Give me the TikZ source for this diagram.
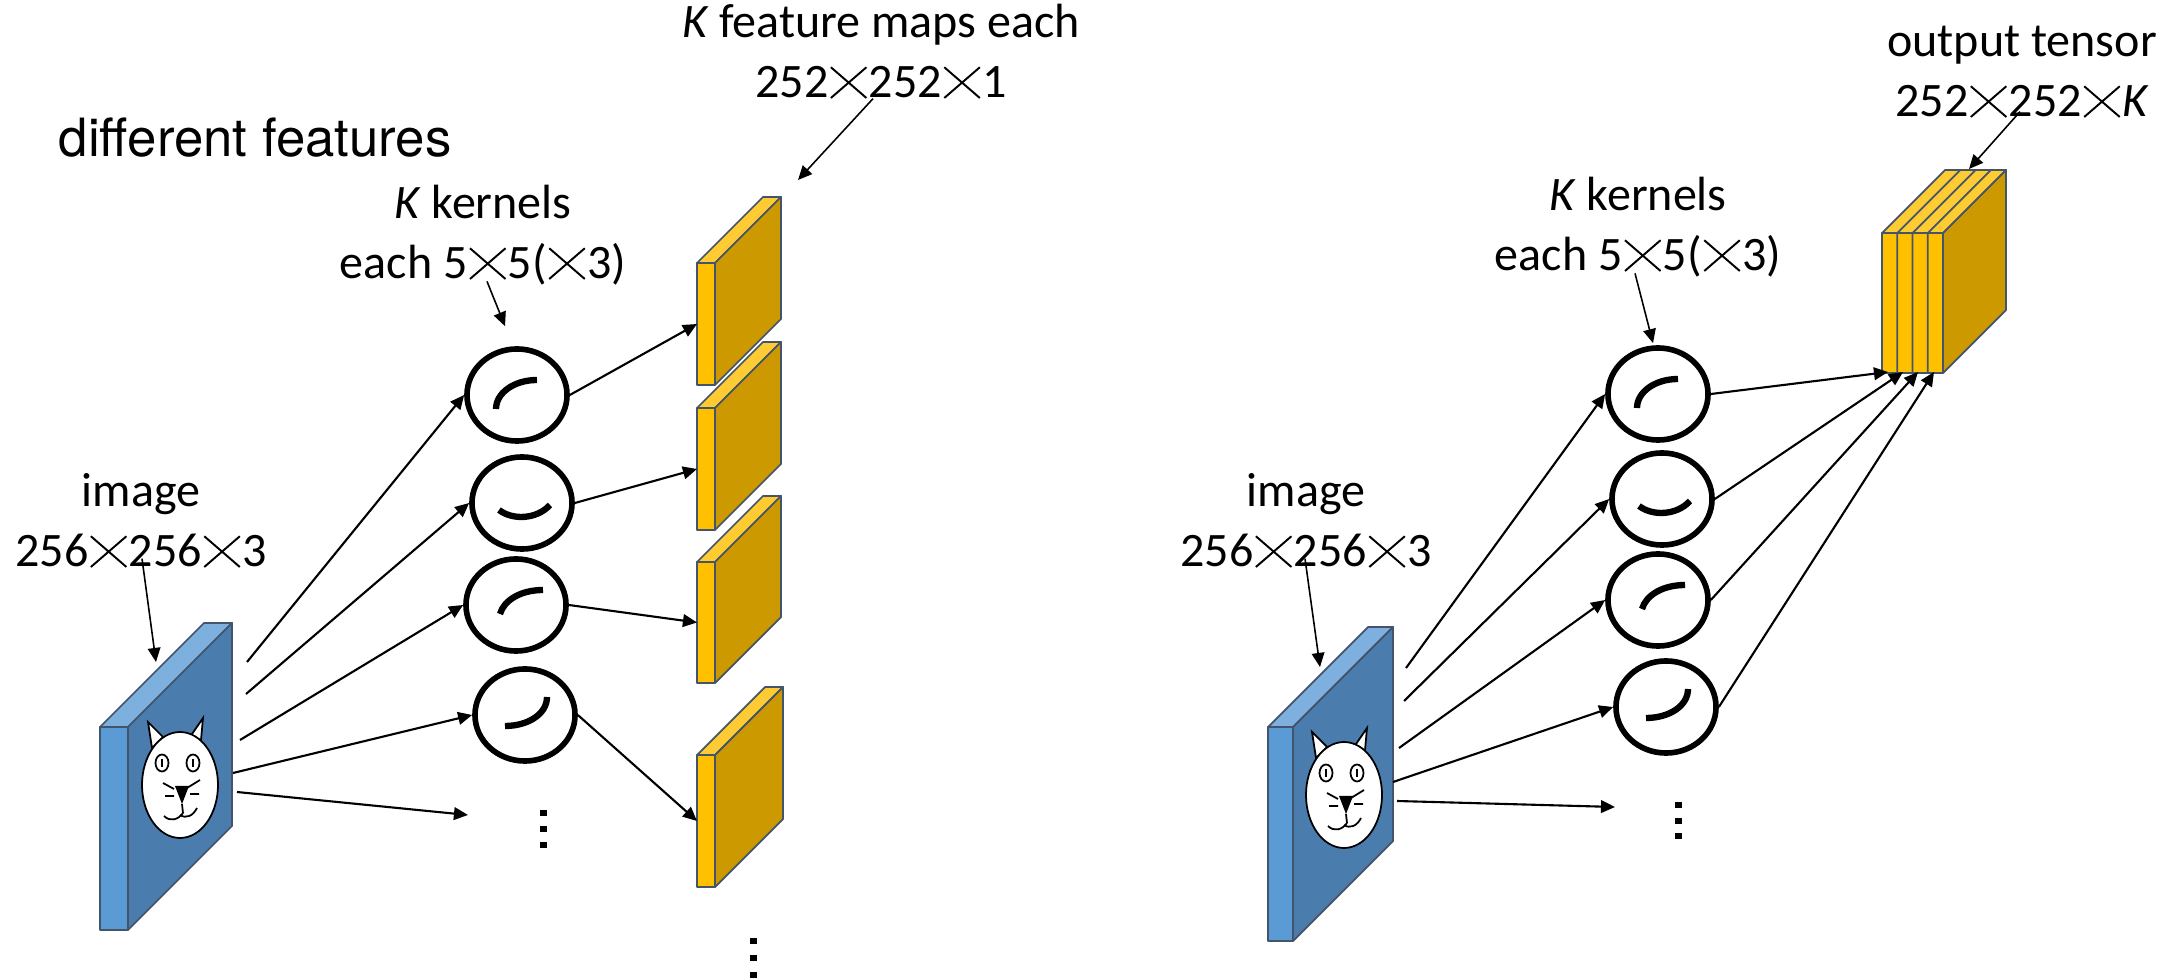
\documentclass[tikz,border=0pt]{standalone}
\usepackage{fontspec}
\setmainfont{Carlito}
\newfontfamily\heros{TeX Gyre Heros}
\usetikzlibrary{arrows.meta, calc, positioning, shapes.geometric}

\definecolor{imgfront}{HTML}{5B9BD5}
\definecolor{imgtop}{HTML}{7DAFDF}
\definecolor{imgside}{HTML}{4A7DAD}
\definecolor{mapfront}{HTML}{FFC000}
\definecolor{maptop}{HTML}{FFCB33}
\definecolor{mapside}{HTML}{CC9A00}
\definecolor{edge}{HTML}{44546A}

\tikzstyle{kernel} = [draw, ellipse, line width=1.6pt, minimum width=1.0cm, minimum height=0.92cm, inner sep=0pt]
\tikzstyle{glyph} = [line width=1.8pt]
\tikzstyle{arrow} = [draw, -{Triangle[length=4pt, width=3.6pt]}, line width=0.6pt]
\tikzstyle{pointer} = [draw, -{Triangle[length=4pt, width=3.6pt]}, line width=0.45pt]
\tikzstyle{note} = [align=center, inner sep=0pt, anchor=base, font=\fontsize{13.66}{17.07}\selectfont]
\tikzstyle{face} = [draw=edge, line width=0.5pt, line join=round]

% the large cross in the sizes
\newcommand{\dimx}{\tikz[baseline=0pt]{\path (0,0) rectangle (0.84em,0.64em);
  \draw[line width=0.55pt] (0.05em,0) -- (0.79em,0.64em) (0.05em,0.64em) -- (0.79em,0);}}

% thin box: name, x, y, width, height, depth, front, top, side
\newcommand{\slab}[9]{%
  \filldraw[face, fill=#8] (#2,#3) -- ++(#6,-#6) -- ++(#4,0) -- ++(-#6,#6) -- cycle;
  \filldraw[face, fill=#9] (#2+#4,#3) -- ++(#6,-#6) -- ++(0,#5) -- ++(-#6,#6) -- cycle;
  \filldraw[face, fill=#7] (#2,#3) rectangle ++(#4,#5);
  \coordinate (#1) at (#2,#3+#5/2);
}

% cat face around a centre
\newcommand{\catface}[2]{%
  \begin{scope}[shift={(#1,#2)}, line width=0.5pt]
    \filldraw[fill=white] (-28,-37) -- (-32,-63) -- (-17,-48) -- cycle;
    \filldraw[fill=white] (10,-48) -- (23,-67) -- (21,-45) -- cycle;
    \filldraw[fill=white] (0,0) ellipse [x radius=38, y radius=53];
    \draw (-18,-22) ellipse [x radius=6.5, y radius=8.5] (13,-22) ellipse [x radius=6.5, y radius=8.5];
    \draw (-18,-26) -- (-18,-18) (13,-26) -- (13,-18);
    \fill (-5,1) -- (9,1) -- (2,19) -- cycle;
    \draw (-17,-2) -- (-6,4) (-15,11) -- (-6,11) (7,3) -- (20,-5) (10,9) -- (19,9);
    \draw (2,19) -- (3,28);
    \draw (-16,31) .. controls (-10,37) and (-2,35) .. (3,28);
    \draw (0,30) .. controls (6,34) and (13,31) .. (17,23);
  \end{scope}}

% strokes inside the kernels
\newcommand{\glyphA}[1]{\draw[glyph, shift={(#1)}] (-21,14) .. controls (-21,-2) and (-3,-15) .. (20,-15);}
\newcommand{\glyphB}[1]{\draw[glyph, shift={(#1)}] (-23,7) .. controls (-10,17) and (14,17) .. (28,2);}
\newcommand{\glyphC}[1]{\draw[glyph, shift={(#1)}] (-16,9) .. controls (-12,-5) and (5,-15) .. (27,-15);}
\newcommand{\glyphD}[1]{\draw[glyph, shift={(#1)}] (-20,11) .. controls (3,11) and (22,-1) .. (22,-18);}

\begin{document}
\begin{tikzpicture}[x=0.01cm, y=-0.01cm]
    \useasboundingbox (0,0) rectangle (2182,980);

    % ===== Left: one feature map per kernel =====
    \node (title) [anchor=base west, inner sep=0pt, font=\heros\fontsize{15}{18}\selectfont] at (58,157) {different features};

    \slab{img}{100}{727}{28}{203}{104}{imgfront}{imgtop}{imgside}
    \catface{180}{785}

    \node (lk1) [kernel] at (517,395) {};
    \node (lk2) [kernel] at (522,503) {};
    \node (lk3) [kernel] at (516,605) {};
    \node (lk4) [kernel] at (525,715) {};
    \glyphA{lk1} \glyphB{lk2} \glyphC{lk3} \glyphD{lk4}

    \slab{m1}{697}{263}{18}{122}{66}{mapfront}{maptop}{mapside}
    \slab{m2}{697}{408}{18}{122}{66}{mapfront}{maptop}{mapside}
    \slab{m3}{697}{562}{18}{121}{66}{mapfront}{maptop}{mapside}
    \slab{m4}{697}{755}{18}{132}{68}{mapfront}{maptop}{mapside}

    \coordinate (a1) at (247,662);
    \coordinate (a2) at (246,694);
    \coordinate (a3) at (240,740);
    \coordinate (a4) at (233,773);
    \coordinate (a5) at (237,792);
    \coordinate (e1) at (468,815);

    % image to kernels
    \draw [arrow] (a1) -- (lk1.west);
    \draw [arrow] (a2) -- (lk2.west);
    \draw [arrow] (a3) -- (lk3.west);
    \draw [arrow] (a4) -- (lk4.west);
    \draw [arrow] (a5) -- (e1);

    % kernels to maps
    \draw [arrow] (lk1.east) -- (m1);
    \draw [arrow] (lk2.east) -- (m2);
    \draw [arrow] (lk3.east) -- (m3);
    \draw [arrow] (lk4.east) -- (m4);

    \foreach \y in {813,829,845} \fill (540,\y-3) rectangle ++(7,6);
    \foreach \y in {941,958,975} \fill (750,\y-3) rectangle ++(7,6);

    % Labels
    \node (fmL) [note] at (881,98) {\textit{K} feature maps each\\252\dimx252\dimx1};
    \node (knL) [note] at (483,279) {\textit{K} kernels\\each 5\dimx5(\dimx3)};
    \node (imL) [note] at (141,567) {image\\256\dimx256\dimx3};
    \draw [pointer] ($(fmL.south)+(-8,-1)$) -- (798,180);
    \draw [pointer] ($(knL.south)+(4,-5)$) -- ($(lk1.north)+(-12,-20)$);
    \draw [pointer] ($(imL.south)+(1,-10)$) -- (156,662);

    % ===== Right: all maps stacked into one tensor =====
    \slab{img2}{1268}{727}{25}{214}{100}{imgfront}{imgtop}{imgside}
    \catface{1344}{795}

    \node (rk1) [kernel] at (1658,394) {};
    \node (rk2) [kernel] at (1662,499) {};
    \node (rk3) [kernel] at (1658,600) {};
    \node (rk4) [kernel] at (1666,707) {};
    \glyphA{rk1} \glyphB{rk2} \glyphC{rk3} \glyphD{rk4}

    \slab{out}{1882}{233}{61}{140}{63}{mapfront}{maptop}{mapside}
    \foreach \i in {1,2,3}
        \draw [face] (1882+15.25*\i,373) -- ++(0,-140) -- ++(63,-63);

    \coordinate (b1) at (1406,668);
    \coordinate (b2) at (1404,701);
    \coordinate (b3) at (1399,748);
    \coordinate (b4) at (1393,782);
    \coordinate (b5) at (1397,801);
    \coordinate (e2) at (1615,807);
    \coordinate (t1) at (1888,372);
    \coordinate (t2) at (1903,372);
    \coordinate (t3) at (1918,372);
    \coordinate (t4) at (1934,372);

    \draw [arrow] (b1) -- (rk1.west);
    \draw [arrow] (b2) -- (rk2.west);
    \draw [arrow] (b3) -- (rk3.west);
    \draw [arrow] (b4) -- (rk4.west);
    \draw [arrow] (b5) -- (e2);

    \draw [arrow] (rk1.east) -- (t1);
    \draw [arrow] (rk2.east) -- (t2);
    \draw [arrow] (rk3.east) -- (t3);
    \draw [arrow] (rk4.east) -- (t4);

    \foreach \y in {805,821,836} \fill (1675,\y-3) rectangle ++(7,6);

    % Labels
    \node (otR) [note] at (2022,117) {output tensor\\252\dimx252\dimx\textit{K}};
    \node (knR) [note] at (1638,271) {\textit{K} kernels\\each 5\dimx5(\dimx3)};
    \node (imR) [note] at (1306,567) {image\\256\dimx256\dimx3};
    \draw [pointer] ($(otR.south)+(-2,-7)$) -- (1969,169);
    \draw [pointer] ($(knR.south)+(-3,-5)$) -- ($(rk1.north)+(-5,-2)$);
    \draw [pointer] ($(imR.south)+(-1,-10)$) -- (1320,667);
\end{tikzpicture}
\end{document}
